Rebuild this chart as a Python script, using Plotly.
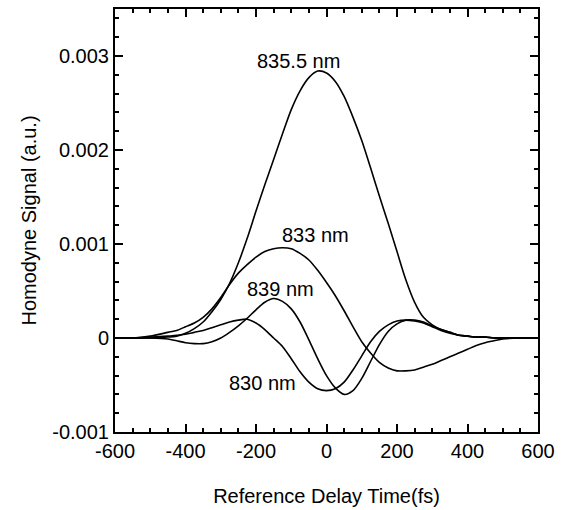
import plotly.graph_objects as go

# Delay times (fs)
delay = [-600, -550, -500, -450, -425, -400, -375, -350, -325, -300, -275, -250, -225, -200,
         -175, -150, -125, -100, -75, -50, -25, 0, 25, 50, 75, 100, 125, 150, 175, 200,
         225, 250, 275, 300, 325, 350, 375, 400, 425, 450, 475, 500, 550, 600]

sig_835_5 = [0, 0, 0, 0.00001, 0.00002, 0.00005, 0.0001, 0.00017, 0.00028, 0.00041,
             0.00058, 0.0008, 0.00106, 0.00135, 0.00163, 0.0019, 0.00217, 0.00243, 0.00263,
             0.00277, 0.00284, 0.00282, 0.00273, 0.00257, 0.00235, 0.0021, 0.00181, 0.00151,
             0.00122, 0.00092, 0.00062, 0.00038, 0.00022, 0.00014, 0.00009, 0.00006, 0.00003,
             0.00002, 0.00001, 0.00001, 0, 0, 0, 0]

sig_833 = [0, 0, 0.00002, 0.00006, 0.00008, 0.00012, 0.00016, 0.00022, 0.00031, 0.00043,
           0.00057, 0.00069, 0.00078, 0.00086, 0.00092, 0.00095, 0.00096, 0.00095, 0.0009,
           0.00083, 0.00072, 0.00059, 0.00045, 0.00029, 0.00012, -0.00004, -0.00016, -0.00026,
           -0.00032, -0.00035, -0.00035, -0.00034, -0.00031, -0.00028, -0.00024, -0.0002,
           -0.00016, -0.00012, -0.00008, -0.00005, -0.00003, -0.00001, 0, 0]

sig_839 = [0, 0, 0, -0.00001, -0.00003, -0.00005, -0.00006, -0.00006, -0.00004, 0.0,
           0.00006, 0.00013, 0.00021, 0.0003, 0.00038, 0.00042, 0.00039, 0.00031, 0.00017,
           -0.00002, -0.00022, -0.0004, -0.00053, -0.0006, -0.00056, -0.00043, -0.00025,
           -0.00007, 0.00007, 0.00015, 0.00019, 0.00019, 0.00017, 0.00013, 0.00009, 0.00006,
           0.00003, 0.00002, 0.00001, 0.00001, 0, 0, 0, 0]

sig_830 = [0, 0, 0.00001, 0.00002, 0.00003, 0.00004, 0.00006, 0.00008, 0.00011, 0.00014,
           0.00017, 0.00019, 0.0002, 0.00016, 0.00009, 0.0, -0.00009, -0.00022, -0.00036,
           -0.00047, -0.00054, -0.00056, -0.00054, -0.00047, -0.00034, -0.00019, -0.00004,
           0.00007, 0.00014, 0.00018, 0.00019, 0.00018, 0.00016, 0.00012, 0.00008, 0.00005,
           0.00003, 0.00002, 0.00001, 0.00001, 0, 0, 0, 0]

series = [sig_835_5, sig_833, sig_839, sig_830]

labels = ["835.5 nm", "833 nm", "839 nm", "830 nm"]
label_x = [-79, -31, -130, -182]
label_y = [0.00295, 0.0011, 0.00052, -0.00048]

x_ticks = [-600, -400, -200, 0, 200, 400, 600]
x_ticktext = ["-600", "-400", "-200", "0", "200", "400", "600"]
y_ticks = [-0.001, 0, 0.001, 0.002, 0.003]
y_ticktext = ["-0.001", "0", "0.001", "0.002", "0.003"]

X_RANGE = [-600, 600]
Y_RANGE = [-0.001, 0.0035]

FONT = "Liberation Sans, Arial, sans-serif"

fig = go.Figure()
for s in series:
    fig.add_trace(go.Scatter(x=delay, y=s, mode="lines",
                             line=dict(color="black", width=1.6, shape="spline", smoothing=0.8),
                             showlegend=False, hoverinfo="skip"))

# invisible trace to carry the mirrored (top/right) axes
fig.add_trace(go.Scatter(x=[X_RANGE[0]], y=[Y_RANGE[0]], xaxis="x2", yaxis="y2", mode="markers",
                         marker=dict(opacity=0), showlegend=False, hoverinfo="skip"))

for t, lx, ly in zip(labels, label_x, label_y):
    fig.add_annotation(x=lx, y=ly, text=t, showarrow=False, xref="x", yref="y",
                       font=dict(family=FONT, size=20, color="black"))

axis_common = dict(showline=True, linecolor="black", linewidth=2, ticks="inside",
                   tickcolor="black", tickwidth=1.5, ticklen=8, showgrid=False, zeroline=False,
                   automargin=False, tickfont=dict(family=FONT, size=20, color="black"))

x_minor = dict(ticks="inside", ticklen=4, tickcolor="black", dtick=50, tick0=0, showgrid=False)
y_minor = dict(ticks="inside", ticklen=4, tickcolor="black", dtick=0.0002, tick0=0, showgrid=False)

fig.update_layout(
    width=562, height=510, margin=dict(l=115, r=24, t=9, b=78),
    paper_bgcolor="white", plot_bgcolor="white",
    xaxis=dict(range=X_RANGE, tickvals=x_ticks, ticktext=x_ticktext, minor=x_minor, mirror="ticks",
               title=dict(text="Reference Delay Time(fs)", font=dict(family=FONT, size=20, color="black"), standoff=28),
               **axis_common),
    yaxis=dict(range=Y_RANGE, tickvals=y_ticks, ticktext=y_ticktext, minor=y_minor, mirror="ticks",
               title=dict(text="Homodyne Signal (a.u.)", font=dict(family=FONT, size=20, color="black"), standoff=10),
               **axis_common),
    xaxis2=dict(range=X_RANGE, overlaying="x", side="top", anchor="y2", tickvals=x_ticks,
                showticklabels=False, minor=x_minor, **axis_common),
    yaxis2=dict(range=Y_RANGE, overlaying="y", side="right", anchor="x2", tickvals=y_ticks,
                showticklabels=False, minor=y_minor, **axis_common),
)

fig.write_html("out.html")
